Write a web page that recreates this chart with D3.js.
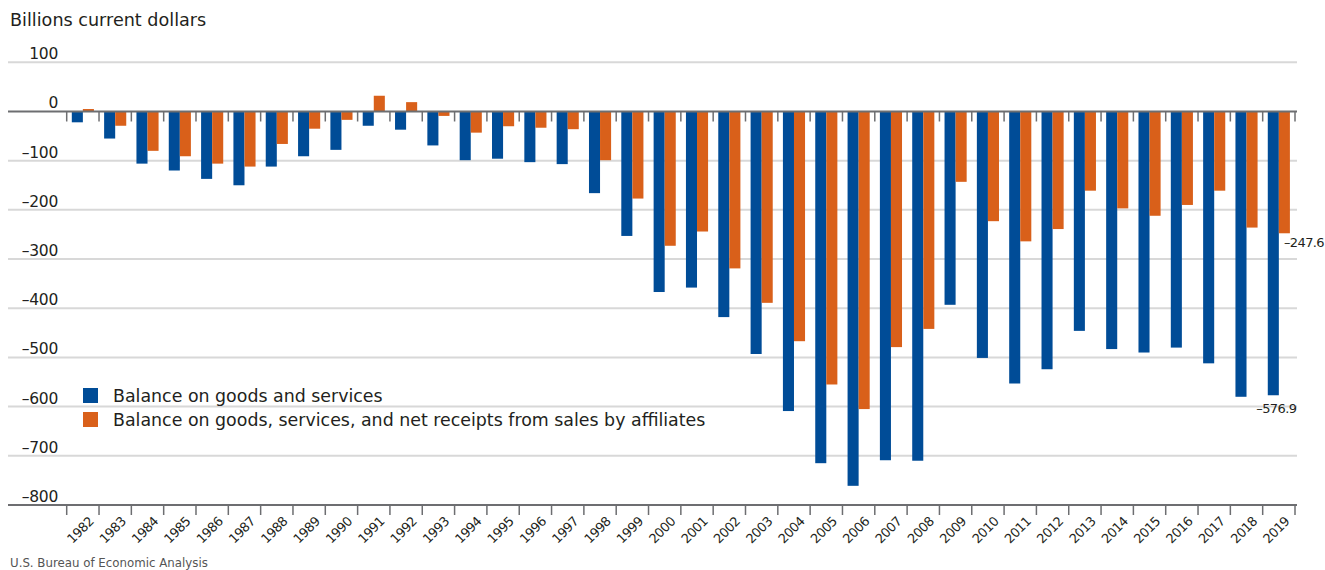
<!DOCTYPE html>
<html>
<head>
<meta charset="utf-8">
<script src="https://cdn.jsdelivr.net/npm/d3@7"></script>
<style>
  body { margin: 0; background: #fff; }
  svg text { font-family: "DejaVu Sans", sans-serif; fill: #231f20; }
</style>
</head>
<body>
<svg></svg>
<script>
const svgWidth = 1325;
const svgHeight = 570;

// data, billions of current dollars
const years = ["1982","1983","1984","1985","1986","1987","1988","1989","1990","1991",
  "1992","1993","1994","1995","1996","1997","1998","1999","2000","2001",
  "2002","2003","2004","2005","2006","2007","2008","2009","2010","2011",
  "2012","2013","2014","2015","2016","2017","2018","2019"];

const goodsServices = [-22, -55, -106, -120, -137, -150, -112, -91, -78, -29,
  -37, -69, -99, -96, -103, -107, -166, -253, -367, -358,
  -418, -493, -609, -715, -761, -709, -710, -393, -501, -553,
  -524, -446, -483, -490, -480, -512, -580, -576.9];

const withAffiliates = [5, -29, -80, -91, -106, -112, -66, -35, -17, 32,
  19, -9, -43, -30, -33, -36, -99, -177, -273, -244,
  -319, -389, -467, -555, -605, -479, -442, -143, -223, -264,
  -239, -161, -197, -212, -190, -161, -236, -247.6];

const yTicks = [100, 0, -100, -200, -300, -400, -500, -600, -700, -800];

const seriesNames = ["Balance on goods and services",
  "Balance on goods, services, and net receipts from sales by affiliates"];
const seriesKeys = ["gs", "aff"];
const colors = { gs: "#004c97", aff: "#d9601a" };

const rows = years.map((yr, i) => ({ year: yr, gs: goodsServices[i], aff: withAffiliates[i] }));

const svg = d3.select("svg")
    .attr("width", svgWidth)
    .attr("height", svgHeight);

const y = d3.scaleLinear()
    .domain([-800, 100])
    .range([505, 62.3]);

const x0 = d3.scaleBand()
    .domain(years)
    .range([66.7, 1295])
    .padding(0);

const step = x0.step();
const x1 = d3.scaleBand()
    .domain(seriesKeys)
    .range([5.1, step - 5.1])
    .padding(0);

const gridLeft = 8, gridRight = 1297;

// gridlines
svg.append("g")
    .selectAll("line")
    .data(yTicks.filter(d => d !== 0 && d !== -800))
    .enter().append("line")
    .attr("x1", gridLeft).attr("x2", gridRight)
    .attr("y1", d => y(d)).attr("y2", d => y(d))
    .attr("stroke", "#d8d8d8")
    .attr("stroke-width", 2);

// y labels
svg.append("g")
    .selectAll("text")
    .data(yTicks)
    .enter().append("text")
    .attr("x", 58)
    .attr("y", d => y(d) - 3)
    .attr("text-anchor", "end")
    .attr("font-size", 15.5)
    .attr("letter-spacing", -0.3)
    .text(d => d < 0 ? "\u2013" + Math.abs(d) : d);

// bars
const groups = svg.append("g")
    .selectAll("g")
    .data(rows)
    .enter().append("g")
    .attr("transform", d => `translate(${x0(d.year)},0)`);

groups.selectAll("rect")
    .data(d => seriesKeys.map(k => ({ key: k, value: d[k] })))
    .enter().append("rect")
    .attr("x", d => x1(d.key))
    .attr("width", x1.bandwidth())
    .attr("y", d => y(Math.max(0, d.value)))
    .attr("height", d => Math.abs(y(d.value) - y(0)))
    .attr("fill", d => colors[d.key]);

// zero line and ticks
svg.append("line")
    .attr("x1", gridLeft).attr("x2", gridRight)
    .attr("y1", y(0)).attr("y2", y(0))
    .attr("stroke", "#6d6e71")
    .attr("stroke-width", 2);

const boundaries = years.map(yr => x0(yr)).concat([x0.range()[1]]);

svg.append("g")
    .selectAll("line")
    .data(boundaries)
    .enter().append("line")
    .attr("x1", d => d).attr("x2", d => d)
    .attr("y1", y(0)).attr("y2", y(0) + 10)
    .attr("stroke", "#6d6e71")
    .attr("stroke-width", 1.5);

// bottom axis
svg.append("line")
    .attr("x1", gridLeft).attr("x2", gridRight)
    .attr("y1", y(-800)).attr("y2", y(-800))
    .attr("stroke", "#6d6e71")
    .attr("stroke-width", 2);

svg.append("g")
    .selectAll("line")
    .data(boundaries)
    .enter().append("line")
    .attr("x1", d => d).attr("x2", d => d)
    .attr("y1", y(-800)).attr("y2", y(-800) + 10)
    .attr("stroke", "#6d6e71")
    .attr("stroke-width", 1.5);

svg.append("g")
    .selectAll("text")
    .data(years)
    .enter().append("text")
    .attr("transform", d => `translate(${x0(d) + step / 2 + 5},${y(-800) + 11}) rotate(-45)`)
    .attr("text-anchor", "end")
    .attr("dy", "0.7em")
    .attr("font-size", 13)
    .attr("letter-spacing", -0.6)
    .text(d => d);

// end labels
const last = rows[rows.length - 1];
const lastX = x0(last.year);
svg.append("text")
    .attr("x", lastX + x1("aff") + x1.bandwidth() - 6)
    .attr("y", y(last.aff) + 14)
    .attr("font-size", 13)
    .attr("letter-spacing", -0.6)
    .text("\u2013" + Math.abs(last.aff).toFixed(1));

svg.append("text")
    .attr("x", lastX + x1("gs") + x1.bandwidth() / 2 + 3)
    .attr("y", y(last.gs) + 18)
    .attr("text-anchor", "middle")
    .attr("font-size", 13)
    .attr("letter-spacing", -0.6)
    .text("\u2013" + Math.abs(last.gs).toFixed(1));

// legend
const legend = svg.append("g")
    .attr("transform", "translate(83,388)");

legend.selectAll("rect")
    .data(seriesKeys)
    .enter().append("rect")
    .attr("x", 0)
    .attr("y", (d, i) => i * 24)
    .attr("width", 15)
    .attr("height", 15)
    .attr("fill", d => colors[d]);

legend.selectAll("text")
    .data(seriesNames)
    .enter().append("text")
    .attr("x", 30)
    .attr("y", (d, i) => i * 24 + 14)
    .attr("font-size", 17.4)
    .text(d => d);

// title and source
svg.append("text")
    .attr("x", 10)
    .attr("y", 26)
    .attr("font-size", 17.6)
    .text("Billions current dollars");

svg.append("text")
    .attr("x", 10)
    .attr("y", 567)
    .attr("font-size", 11.8)
    .style("fill", "#555")
    .text("U.S. Bureau of Economic Analysis");
</script>
</body>
</html>
